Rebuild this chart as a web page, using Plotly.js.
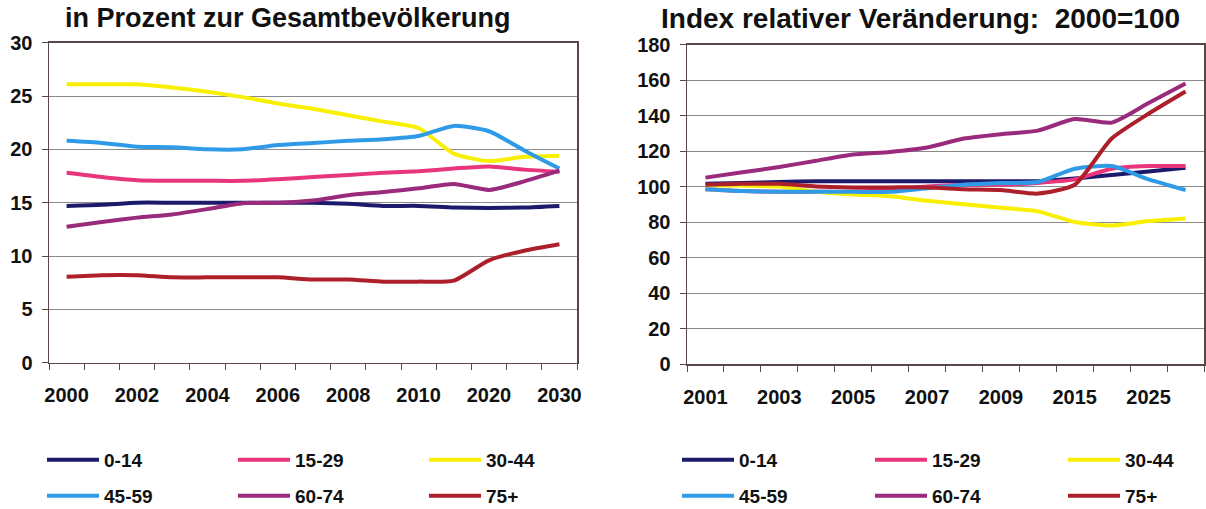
<!DOCTYPE html>
<html>
<head>
<meta charset="utf-8">
<script src="https://cdn.plot.ly/plotly-3.0.1.min.js"></script>
<style>html,body{margin:0;padding:0;background:#fff;}#chart{width:1206px;height:509px;}</style>
</head>
<body>
<div id="chart"></div>
<script>
// ---- data ----
const groups = ['0-14', '15-29', '30-44', '45-59', '60-74', '75+'];
const colors = ['#1c1a6b', '#e8357c', '#f8f000', '#2f9be8', '#9a2a7c', '#ad1f2a'];

// left chart: share of total population (%)
const leftYears = ['2000','2001','2002','2003','2004','2005','2006','2007','2008','2009','2010','2015','2020','2025','2030'];
const leftTickText = ['2000','','2002','','2004','','2006','','2008','','2010','','2020','','2030'];
const pct014  = [14.7, 14.8, 15.0, 15.0, 15.0, 15.0, 15.0, 15.0, 14.9, 14.7, 14.7, 14.55, 14.5, 14.55, 14.7];
const pct1529 = [17.8, 17.4, 17.1, 17.05, 17.05, 17.05, 17.2, 17.4, 17.6, 17.8, 17.95, 18.2, 18.4, 18.1, 17.9];
const pct3044 = [26.1, 26.1, 26.1, 25.8, 25.4, 24.9, 24.3, 23.8, 23.2, 22.6, 22.0, 19.6, 18.9, 19.3, 19.4];
const pct4559 = [20.8, 20.6, 20.25, 20.2, 20.0, 20.0, 20.4, 20.6, 20.8, 20.95, 21.25, 22.2, 21.7, 19.9, 18.2];
const pct6074 = [12.75, 13.2, 13.6, 13.9, 14.4, 14.95, 15.0, 15.2, 15.7, 16.0, 16.35, 16.75, 16.2, 17.0, 18.0];
const pct75   = [8.06, 8.2, 8.2, 8.0, 8.0, 8.0, 8.0, 7.8, 7.8, 7.6, 7.6, 7.7, 9.6, 10.5, 11.1];

// right chart: index of relative change, 2000 = 100
const rightYears = ['2001','2002','2003','2004','2005','2006','2007','2008','2009','2010','2015','2020','2025','2030'];
const rightTickText = ['2001','','2003','','2005','','2007','','2009','','2015','','2025',''];
const idx014  = [101.5, 102, 102.5, 103, 103, 103, 103, 103, 103, 103, 104.5, 106.5, 108.5, 110.5];
const idx1529 = [98.5, 97.5, 97, 97, 97, 98, 100, 101, 101, 102, 104, 110, 111.5, 111.5];
const idx3044 = [100.5, 100.5, 100, 97, 95.5, 94.5, 92, 90, 88, 86, 80, 78, 80.5, 82];
const idx4559 = [98.5, 97.5, 97, 97, 97, 97, 99, 101, 102, 102.5, 110, 111.5, 104, 98];
const idx6074 = [105, 108, 111, 114.5, 118, 119.5, 122, 127, 129.5, 131.5, 138, 136, 147, 158];
const idx75   = [101, 101.5, 101.5, 100, 99.5, 99.5, 99.5, 98.5, 98, 96, 101, 127, 141, 153.5];

const leftTitle = 'in Prozent zur Gesamtbevölkerung';
const rightTitle = 'Index relativer Veränderung:  2000=100';

// ---- build ----
const leftSeries = [pct014, pct1529, pct3044, pct4559, pct6074, pct75];
const rightSeries = [idx014, idx1529, idx3044, idx4559, idx6074, idx75];
const W = 1206, H = 509;
const FAM = 'Liberation Sans, Arial, sans-serif';
const traces = [];
leftSeries.forEach((ys, i) => {
  traces.push({
    type: 'scatter', mode: 'lines', x: leftYears, y: ys, name: groups[i],
    xaxis: 'x', yaxis: 'y',
    line: {color: colors[i], width: 4, shape: 'spline', smoothing: 0.6},
    legend: i < 3 ? 'legend' : 'legend2', showlegend: true
  });
});
rightSeries.forEach((ys, i) => {
  traces.push({
    type: 'scatter', mode: 'lines', x: rightYears, y: ys, name: groups[i],
    xaxis: 'x2', yaxis: 'y2',
    line: {color: colors[i], width: 4, shape: 'spline', smoothing: 0.6},
    legend: i < 3 ? 'legend3' : 'legend4', showlegend: true
  });
});

const gridColor = '#8a8a8a';
const axisColor = '#5a4848';
const tickFont = {family: FAM, size: 20, color: '#111', weight: 'bold'};

function xAxis(years, text, domain, anchor) {
  return {
    type: 'category', domain: domain, anchor: anchor,
    range: [-0.5, years.length - 0.5], autorange: false,
    tickmode: 'array', tickvals: years, ticktext: text, tickangle: 0,
    tickson: 'boundaries', ticks: 'outside', ticklen: 6, tickcolor: axisColor,
    showline: true, linecolor: axisColor, linewidth: 1.5, mirror: true,
    showgrid: false, zeroline: false, fixedrange: true,
    ticklabelstandoff: 14,
    tickfont: tickFont
  };
}
function yAxis(range, dtick, domain, anchor) {
  return {
    range: range, dtick: dtick, domain: domain, anchor: anchor,
    ticks: 'outside', ticklen: 6, tickcolor: axisColor,
    showline: true, linecolor: axisColor, linewidth: 1.5, mirror: true,
    showgrid: true, gridcolor: gridColor, gridwidth: 1, zeroline: false,
    ticklabelstandoff: 5,
    tickfont: tickFont
  };
}

function legendAt(x, y, ew) {
  return {
    orientation: 'h', x: x / W, y: 1 - y / H, xanchor: 'left', yanchor: 'middle',
    entrywidth: ew, entrywidthmode: 'pixels', itemwidth: 52,
    bgcolor: 'rgba(0,0,0,0)', borderwidth: 0,
    font: {family: FAM, size: 19, color: '#111', weight: 'bold'}, tracegroupgap: 0
  };
}

const layout = {
  width: W, height: H,
  margin: {l: 0, r: 0, t: 0, b: 0, autoexpand: false},
  paper_bgcolor: '#fff', plot_bgcolor: '#fff',
  font: {family: FAM, size: 18, color: '#111'},
  xaxis: xAxis(leftYears, leftTickText, [49 / W, 577 / W], 'y'),
  yaxis: yAxis([0, 30], 5, [1 - 362.7 / H, 1 - 42.7 / H], 'x'),
  xaxis2: xAxis(rightYears, rightTickText, [687 / W, 1204 / W], 'y2'),
  yaxis2: yAxis([0, 180], 20, [1 - 364 / H, 1 - 44.5 / H], 'x2'),
  legend: legendAt(42, 460, 124),
  legend2: legendAt(42, 496, 124),
  legend3: legendAt(677, 460, 126),
  legend4: legendAt(677, 496, 126),
  annotations: [
    {text: leftTitle, xref: 'paper', yref: 'paper', x: 288 / W, y: 1 - 18 / H,
     xanchor: 'center', yanchor: 'middle', showarrow: false,
     font: {family: FAM, size: 27, color: '#111', weight: 'bold'}},
    {text: rightTitle, xref: 'paper', yref: 'paper', x: 920 / W, y: 1 - 19 / H,
     xanchor: 'center', yanchor: 'middle', showarrow: false,
     font: {family: FAM, size: 28, color: '#111', weight: 'bold'}}
  ],
  showlegend: true
};

Plotly.newPlot('chart', traces, layout, {staticPlot: true, displayModeBar: false});
</script>
</body>
</html>
